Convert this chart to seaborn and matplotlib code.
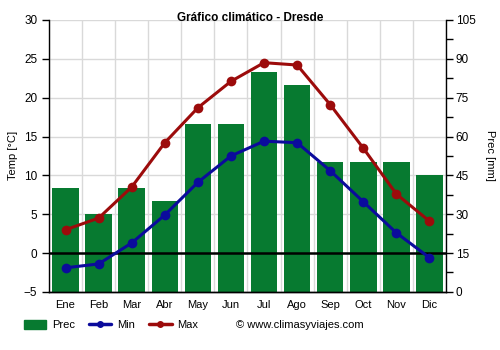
import matplotlib
matplotlib.use("Agg")
import matplotlib.pyplot as plt
import seaborn as sns
import pandas as pd
import numpy as np
from matplotlib.patches import Patch
from matplotlib.lines import Line2D

months = ["Ene", "Feb", "Mar", "Abr", "May", "Jun", "Jul", "Ago", "Sep", "Oct", "Nov", "Dic"]
prec = [40, 30, 40, 35, 65, 65, 85, 80, 50, 50, 50, 45]
tmin = [-1.9, -1.4, 1.3, 4.9, 9.1, 12.5, 14.4, 14.2, 10.6, 6.6, 2.6, -0.6]
tmax = [3.0, 4.5, 8.5, 14.2, 18.7, 22.1, 24.5, 24.2, 19.1, 13.5, 7.6, 4.1]

GREEN = "#077a30"
RED = "#9c0b0b"
BLUE = "#0b0b9c"

sns.set_style("white")
plt.rcParams["font.family"] = ["Liberation Sans", "DejaVu Sans"]
plt.rcParams["text.color"] = "black"
plt.rcParams["axes.labelcolor"] = "black"
plt.rcParams["xtick.color"] = "black"
plt.rcParams["ytick.color"] = "black"

fig = plt.figure(figsize=(5, 3.5), dpi=100)
ax = fig.add_axes([0.098, 0.166, 0.794, 0.777])
ax2 = ax.twinx()
ax.set_zorder(ax2.get_zorder() + 1)
ax.patch.set_visible(False)

df = pd.DataFrame({"month": months, "prec": prec, "pos": np.arange(12), "tmin": tmin, "tmax": tmax})

# precipitation bars on right axis
sns.barplot(data=df, x="month", y="prec", ax=ax2, color=GREEN, width=0.8, saturation=1,
            linewidth=0, edgecolor=GREEN, zorder=2)
ax2.set_ylim(0, 105)
ax2.set_yticks(np.arange(0, 106, 15))
ax2.set_yticks(np.arange(0, 106, 7.5), minor=True)
ax2.set_ylabel("Prec [mm]", rotation=270, labelpad=14, fontsize=8)
ax2.set_xlabel("")

# grid on ax2 (behind bars)
ax2.set_axisbelow(True)
ax2.grid(True, axis="y", color="#d9d9d9", linewidth=1, zorder=0)
for b in np.arange(-0.5, 12, 1.0):
    ax2.axvline(b, color="#d9d9d9", linewidth=1, zorder=0)

# temperature lines on left axis
sns.lineplot(data=df, x="pos", y="tmax", ax=ax, color=RED, linewidth=2.2, marker="o",
             markersize=7, markeredgewidth=0)
sns.lineplot(data=df, x="pos", y="tmin", ax=ax, color=BLUE, linewidth=2.2, marker="o",
             markersize=7, markeredgewidth=0)
ax.axhline(0, color="black", linewidth=1.8, zorder=1)
ax.set_ylim(-5, 30)
ax.set_yticks(np.arange(-5, 31, 5))
ax.set_xlim(-0.5, 11.5)
ax.set_xticks(np.arange(12))
ax.set_xticklabels(months)
ax.set_xticks(np.arange(-0.5, 12, 1.0), minor=True)
ax.set_ylabel("Temp [°C]", fontsize=8)
ax.set_xlabel("")
ax.tick_params(axis="x", which="major", length=0, labelsize=8, pad=6)
ax.tick_params(axis="x", which="minor", length=5, color="black", width=1)
ax.tick_params(axis="y", length=5, labelsize=8.5, color="black", width=1, left=True)
ax2.tick_params(axis="y", which="both", length=5, labelsize=8.5, color="black", width=1, right=True, pad=2)
ax2.tick_params(axis="x", length=0, labelbottom=False)

for a in (ax, ax2):
    a.spines["top"].set_visible(False)
    for s in ("left", "right", "bottom"):
        a.spines[s].set_color("black")
        a.spines[s].set_linewidth(1)
ax2.spines["left"].set_visible(False)
ax.spines["right"].set_visible(False)

fig.text(0.5, 0.948, "Gráfico climático - Dresde", ha="center", va="center", fontsize=8.5, fontweight="bold")

handles = [
    Patch(facecolor=GREEN, edgecolor=GREEN),
    Line2D([0], [0], color=BLUE, linewidth=2.5, marker="o", markersize=4),
    Line2D([0], [0], color=RED, linewidth=2.5, marker="o", markersize=4),
]
fig.legend(handles, ["Prec", "Min", "Max"], loc="center left", bbox_to_anchor=(0.048, 0.071),
           ncol=3, frameon=False, fontsize=8, handlelength=2.0, handleheight=0.9,
           columnspacing=1.3, handletextpad=0.5, borderpad=0, borderaxespad=0)
fig.text(0.472, 0.071, "© www.climasyviajes.com", ha="left", va="center", fontsize=8)

fig.savefig("out.png", dpi=100)
